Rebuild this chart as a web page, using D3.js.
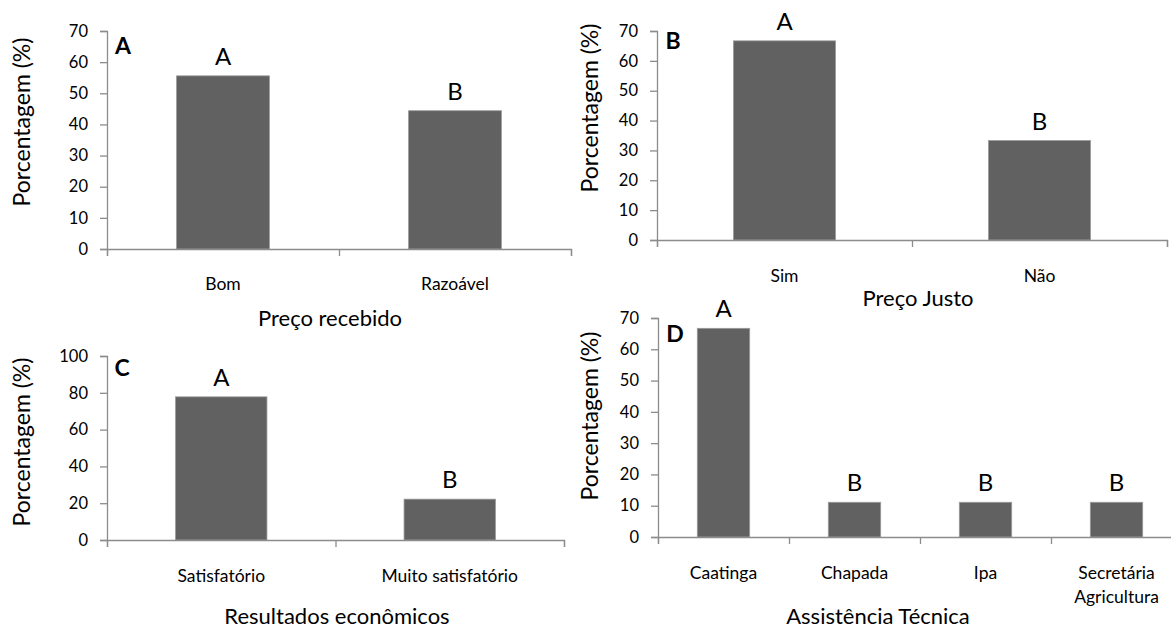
<!DOCTYPE html>
<html>
<head>
<meta charset="utf-8">
<script src="https://cdn.jsdelivr.net/npm/d3@7"></script>
<style>
  html, body { margin: 0; padding: 0; background: #fff; }
  svg { display: block; font-family: Lato, "Open Sans", sans-serif; }
</style>
</head>
<body>
<svg id="chart" width="1171" height="629"></svg>
<script>
// ---- Data ----
const catsA = ["Bom", "Razoável"];
const valsA = [55.6, 44.4];
const sigA = ["A", "B"];
const ticksA = [0, 10, 20, 30, 40, 50, 60, 70];

const catsB = ["Sim", "Não"];
const valsB = [66.7, 33.3];
const sigB = ["A", "B"];
const ticksB = [0, 10, 20, 30, 40, 50, 60, 70];

const catsC = ["Satisfatório", "Muito satisfatório"];
const valsC = [77.8, 22.2];
const sigC = ["A", "B"];
const ticksC = [0, 20, 40, 60, 80, 100];

const catsD = ["Caatinga", "Chapada", "Ipa", "Secretária\nAgricultura"];
const valsD = [66.7, 11.1, 11.1, 11.1];
const sigD = ["A", "B", "B", "B"];
const ticksD = [0, 10, 20, 30, 40, 50, 60, 70];

const panelLetters = ["A", "B", "C", "D"];
const xTitles = ["Preço recebido", "Preço Justo", "Resultados econômicos", "Assistência Técnica"];
const yTitle = "Porcentagem (%)";

// ---- Layout ----
const panels = [
  { cats: catsA, vals: valsA, sig: sigA, ticks: ticksA, max: 70, letter: panelLetters[0], xt: xTitles[0],
    x0: 107, x1: 571, y0: 249, y1: 31, letterPos: [123, 45], yTitlePos: [21, 122], catY: 283, xTitlePos: [330, 317] },
  { cats: catsB, vals: valsB, sig: sigB, ticks: ticksB, max: 70, letter: panelLetters[1], xt: xTitles[1],
    x0: 657, x1: 1167, y0: 240, y1: 31, letterPos: [673, 40], yTitlePos: [589, 108], catY: 275, xTitlePos: [918, 297] },
  { cats: catsC, vals: valsC, sig: sigC, ticks: ticksC, max: 100, letter: panelLetters[2], xt: xTitles[2],
    x0: 107, x1: 564, y0: 540, y1: 356, letterPos: [122, 367], yTitlePos: [21, 442], catY: 575, xTitlePos: [337, 615] },
  { cats: catsD, vals: valsD, sig: sigD, ticks: ticksD, max: 70, letter: panelLetters[3], xt: xTitles[3],
    x0: 658, x1: 1182, y0: 537, y1: 318, letterPos: [675, 333], yTitlePos: [589, 416], catY: 572, xTitlePos: [878, 615] }
];

const svg = d3.select("#chart");
const axisColor = "#8c8c8c";
const barColor = "#616161";

panels.forEach(p => {
  const g = svg.append("g");
  const y = d3.scaleLinear().domain([0, p.max]).range([p.y0, p.y1]);
  const x = d3.scaleBand().domain(p.cats).range([p.x0, p.x1]).paddingInner(0.6).paddingOuter(0.3);
  const xi = d3.scaleLinear().domain([0, p.cats.length]).range([p.x0, p.x1]);

  // bars
  g.selectAll("rect.bar").data(p.cats).enter().append("rect")
    .attr("class", "bar")
    .attr("x", d => x(d))
    .attr("width", x.bandwidth())
    .attr("y", (d, i) => y(p.vals[i]))
    .attr("height", (d, i) => y(0) - y(p.vals[i]))
    .attr("fill", barColor)
    .attr("stroke", "#9a9a9a")
    .attr("stroke-width", 0.8);

  // significance letters
  g.selectAll("text.sig").data(p.cats).enter().append("text")
    .attr("x", d => x(d) + x.bandwidth() / 2)
    .attr("y", (d, i) => y(p.vals[i]) - 11)
    .attr("text-anchor", "middle")
    .attr("font-size", 24)
    .attr("fill", "#000")
    .text((d, i) => p.sig[i]);

  // y axis
  const ya = g.append("g").attr("transform", `translate(${p.x0},0)`)
    .call(d3.axisLeft(y).tickValues(p.ticks).tickSize(7).tickPadding(12).tickFormat(d3.format("d")));
  ya.select(".domain").attr("stroke", axisColor).attr("stroke-width", 1.3);
  ya.selectAll(".tick line").attr("stroke", axisColor).attr("stroke-width", 1.3);
  ya.selectAll(".tick text").attr("font-size", 16.5).attr("fill", "#000").attr("font-family", "Lato, sans-serif");

  // x axis (boundary ticks)
  const xa = g.append("g").attr("transform", `translate(0,${p.y0})`)
    .call(d3.axisBottom(xi).tickValues(d3.range(p.cats.length + 1)).tickSize(7).tickFormat(""));
  xa.select(".domain").attr("stroke", axisColor).attr("stroke-width", 1.3);
  xa.selectAll(".tick line").attr("stroke", axisColor).attr("stroke-width", 1.3);

  // category labels
  const cl = g.selectAll("text.cat").data(p.cats).enter().append("text")
    .attr("class", "cat")
    .attr("x", d => x(d) + x.bandwidth() / 2)
    .attr("y", p.catY)
    .attr("text-anchor", "middle")
    .attr("dominant-baseline", "central")
    .attr("font-size", 17.5)
    .attr("fill", "#000");
  cl.each(function(d) {
    const lines = d.split("\n");
    const t = d3.select(this);
    lines.forEach((ln, k) => {
      t.append("tspan").attr("x", x(d) + x.bandwidth() / 2).attr("dy", k === 0 ? 0 : 24).text(ln);
    });
  });

  // x title
  g.append("text")
    .attr("x", p.xTitlePos[0]).attr("y", p.xTitlePos[1])
    .attr("text-anchor", "middle").attr("dominant-baseline", "central")
    .attr("font-size", 22).attr("fill", "#000")
    .text(p.xt);

  // y title
  g.append("text")
    .attr("transform", `translate(${p.yTitlePos[0]},${p.yTitlePos[1]}) rotate(-90)`)
    .attr("text-anchor", "middle").attr("dominant-baseline", "central")
    .attr("font-size", 23).attr("fill", "#000")
    .text(yTitle);

  // panel letter
  g.append("text")
    .attr("x", p.letterPos[0]).attr("y", p.letterPos[1])
    .attr("text-anchor", "middle").attr("dominant-baseline", "central")
    .attr("font-size", 23).attr("font-weight", "bold").attr("fill", "#000")
    .text(p.letter);
});
</script>
</body>
</html>
